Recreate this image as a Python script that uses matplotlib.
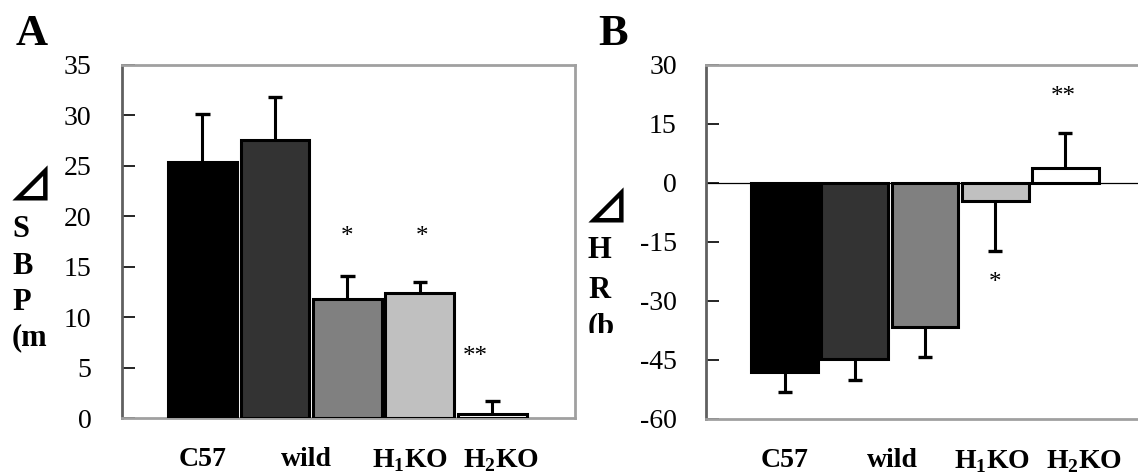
import matplotlib
matplotlib.use('Agg')
import matplotlib.pyplot as plt
from matplotlib.transforms import Bbox, TransformedBbox

plt.rcParams['font.family'] = ['Liberation Serif', 'DejaVu Sans']
plt.rcParams['mathtext.fontset'] = 'custom'
plt.rcParams['mathtext.rm'] = 'Liberation Serif'
plt.rcParams['mathtext.bf'] = 'Liberation Serif:bold'
plt.rcParams['axes.unicode_minus'] = False

# Data
groups = ['C57', 'wild', 'H1', 'H1KO', 'H2KO']
bar_colors = ['#000000', '#333333', '#808080', '#c0c0c0', '#ffffff']

sbp_mean = [25.4, 27.6, 11.8, 12.4, 0.4]
sbp_sem = [4.7, 4.2, 2.3, 1.1, 1.3]
sbp_sig = ['', '', '*', '*', '**']
sbp_sig_y = [0, 0, 17.9, 17.9, 6.0]
sbp_sig_x = [0, 0, 2.0, 3.03, 3.77]

hr_mean = [-48.1, -44.8, -36.6, -4.6, 3.8]
hr_sem = [5.1, 5.3, 7.7, 12.7, 8.9]
hr_sig = ['', '', '', '*', '**']
hr_sig_y = [0, 0, 0, -25.4, 21.8]
hr_sig_x = [0, 0, 0, 3.0, 3.97]

label_text = ['C57', 'wild', r'H$_{\mathbf{1}}$KO', r'H$_{\mathbf{2}}$KO']
sbp_label_pos = [0, 1.43, 2.86, 4.12]
hr_label_pos = [0, 1.53, 2.95, 4.26]

W, H = 1138, 475
fig = plt.figure(figsize=(W / 100, H / 100), dpi=100)
fig.patch.set_facecolor('white')


def px_box(l, t, r, b):
    return [l / W, 1 - b / H, (r - l) / W, (b - t) / H]


def draw_panel(ax, means, sems, sigs, sig_x, sig_y, lab_pos, ylim, yticks, xlim, pad):
    x = list(range(len(means)))
    ax.bar(x, means, width=0.95, color=bar_colors, edgecolor='black',
           linewidth=2.2, zorder=3)
    for xi, m, s in zip(x, means, sems):
        tip = m + s if m >= 0 else m - s
        ax.vlines(xi, m, tip, color='black', linewidth=2.2, zorder=2)
        ax.hlines(tip, xi - 0.1, xi + 0.1, color='black', linewidth=2.4, zorder=2)
    for s, sx, sy in zip(sigs, sig_x, sig_y):
        if s:
            ax.text(sx, sy, s, ha='center', va='center', fontsize=18)
    ax.set_xlim(*xlim)
    ax.set_ylim(*ylim)
    ax.set_yticks(yticks)
    ax.tick_params(axis='y', direction='in', length=9, width=1.2, color='black',
                   labelsize=20, pad=pad)
    ax.set_xticks(lab_pos, label_text)
    ax.tick_params(axis='x', length=0, pad=21)
    for lab in ax.get_xticklabels():
        lab.set_fontweight('bold')
        lab.set_fontsize(20)
    for side in ['top', 'right', 'bottom']:
        ax.spines[side].set_color('#a0a0a0')
        ax.spines[side].set_linewidth(2)
    ax.spines['left'].set_color('#606060')
    ax.spines['left'].set_linewidth(2)


# Panel A
axA = fig.add_axes(px_box(122, 65, 575, 418))
draw_panel(axA, sbp_mean, sbp_sem, sbp_sig, sbp_sig_x, sbp_sig_y, sbp_label_pos,
           (0, 35), range(0, 36, 5), (-1.11, 5.14), 22)

# Panel B
axB = fig.add_axes(px_box(706, 65, 1142, 419))
draw_panel(axB, hr_mean, hr_sem, hr_sig, hr_sig_x, hr_sig_y, hr_label_pos,
           (-60, 30), range(-60, 31, 15), (-1.12, 5.09), 21)
axB.axhline(0, color='black', linewidth=0.9, zorder=1)
axB.spines['right'].set_visible(False)

# panel letters
fig.text(16 / W, 1 - 45 / H, 'A', fontsize=32, fontweight='bold', va='baseline')
fig.text(598 / W, 1 - 45 / H, 'B', fontsize=32, fontweight='bold', va='baseline')


# stacked y labels (triangle is the delta sign)
def stacked_label(x_px, tri_y, chars, ys, clip_px=None):
    items = [fig.text((x_px - 4) / W, 1 - tri_y / H, '⊿', fontsize=32, fontweight='bold',
                      family=['Noto Sans CJK JP', 'DejaVu Sans'], va='center', ha='left')]
    for ch, yy in zip(chars, ys):
        items.append(fig.text(x_px / W, 1 - yy / H, ch, fontsize=22, fontweight='bold',
                              va='center', ha='left'))
    if clip_px is not None:
        clip = TransformedBbox(Bbox([[0, 1 - clip_px / H], [1, 1]]), fig.transFigure)
        for t in items:
            t.set_clip_box(clip)
            t.set_clip_on(True)


stacked_label(12, 188, ['S', 'B', 'P', '(m'], [229, 266, 302, 338])
stacked_label(588, 209, ['H', 'R', '(b'], [251, 291, 327], clip_px=333)

fig.savefig('out.png', dpi=100, facecolor='white')
